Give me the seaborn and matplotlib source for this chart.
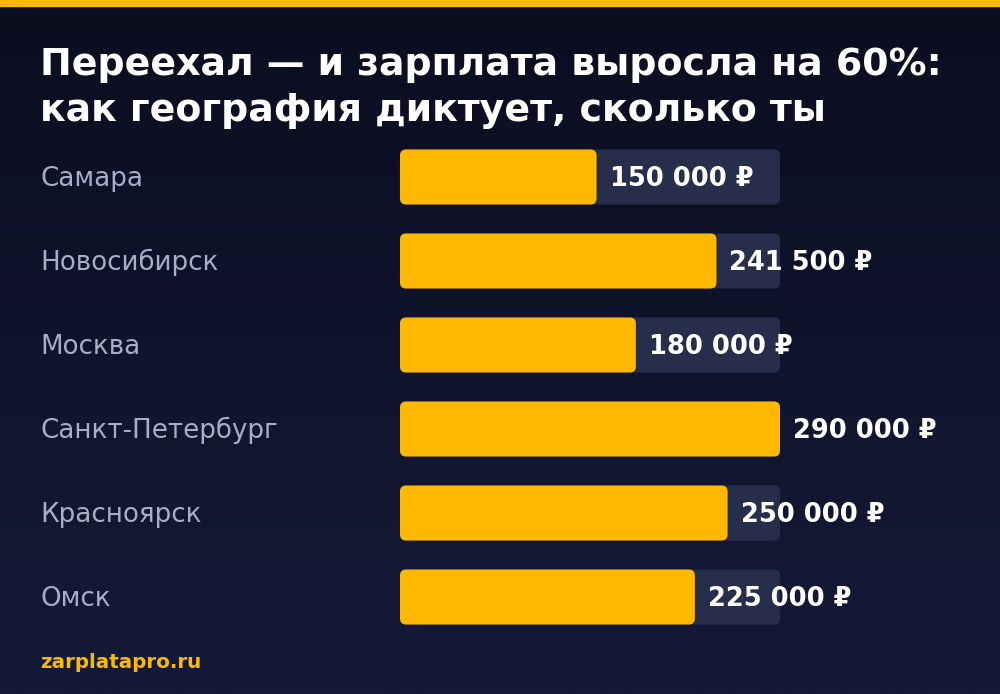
import matplotlib
matplotlib.use("Agg")
import matplotlib.pyplot as plt
import numpy as np
import pandas as pd
import seaborn as sns
from matplotlib.patches import FancyBboxPatch, Rectangle
from matplotlib.transforms import IdentityTransform, blended_transform_factory

# data
cities = ["Самара", "Новосибирск", "Москва", "Санкт-Петербург", "Красноярск", "Омск"]
salaries = [150000, 241500, 180000, 290000, 250000, 225000]
value_labels = ["150 000 ₽", "241 500 ₽", "180 000 ₽", "290 000 ₽", "250 000 ₽", "225 000 ₽"]

title_lines = ["Переехал — и зарплата выросла на 60%:", "как география диктует, сколько ты"]
footer = "zarplatapro.ru"

df = pd.DataFrame({"city": cities, "salary": salaries})
max_salary = max(salaries)

sns.set_theme(style="white")
plt.rcParams["font.family"] = ["DejaVu Sans"]

YELLOW = "#ffb800"
TRACK = "#272e4c"
H = 694

fig = plt.figure(figsize=(10, 6.94), dpi=100)

# background gradient
bg = fig.add_axes([0, 0, 1, 1])
grad = np.linspace(0, 1, 256).reshape(-1, 1)
cmap = matplotlib.colors.LinearSegmentedColormap.from_list("bg", ["#0b0e1f", "#151a38"])
bg.imshow(grad, aspect="auto", cmap=cmap, extent=[0, 1, 0, 1], origin="upper")
bg.add_patch(Rectangle((0, 1 - 6 / H), 1, 6 / H, color=YELLOW, transform=bg.transAxes))
bg.set_axis_off()

ax = fig.add_axes([0.4, 55 / H, 0.38, 504 / H])
ax.set_facecolor("none")

# track (full width) and value bars
sns.barplot(data=df.assign(track=max_salary), x="track", y="city", color=TRACK,
            width=0.655, ax=ax, saturation=1)
sns.barplot(data=df, x="salary", y="city", color=YELLOW, width=0.655, ax=ax, saturation=1)
ax.set_xlim(0, max_salary)
ax.set_ylim(len(cities) - 0.5, -0.5)
ax.set_axis_off()

# swap plain rectangles for rounded ones
fig.canvas.draw()
rects = [p for p in ax.patches if isinstance(p, Rectangle)]
for p in rects:
    bb = p.get_window_extent()
    rounded = FancyBboxPatch((bb.x0, bb.y0), bb.width, bb.height,
                             boxstyle="round,pad=0,rounding_size=6",
                             facecolor=p.get_facecolor(), edgecolor="none",
                             transform=IdentityTransform(), zorder=p.get_zorder(),
                             clip_on=False)
    ax.add_patch(rounded)
    p.set_visible(False)
ax.set_xlim(0, max_salary)
ax.set_ylim(len(cities) - 0.5, -0.5)

# labels
lab_tr = blended_transform_factory(fig.transFigure, ax.transData)
for i, (city, val, lab) in enumerate(zip(cities, salaries, value_labels)):
    ax.annotate(city, (0.04, i), xycoords=lab_tr, xytext=(0, -9.5),
                textcoords="offset pixels", color="#a8adc8", fontsize=18.8,
                va="baseline", ha="left", annotation_clip=False)
    ax.annotate(lab, (val, i), xytext=(13, -9), textcoords="offset pixels",
                color="white", fontsize=18.5, fontweight="bold",
                va="baseline", ha="left", annotation_clip=False, zorder=10)

for line, base in zip(title_lines, [75, 121]):
    fig.text(0.04, 1 - base / H, line, color="white", fontsize=27.3, fontweight="bold",
             va="baseline", ha="left")
fig.text(0.04, 1 - 663 / H, footer, color=YELLOW, fontsize=14.3, fontweight="bold",
         va="center", ha="left")

fig.savefig("out.png", dpi=100)
